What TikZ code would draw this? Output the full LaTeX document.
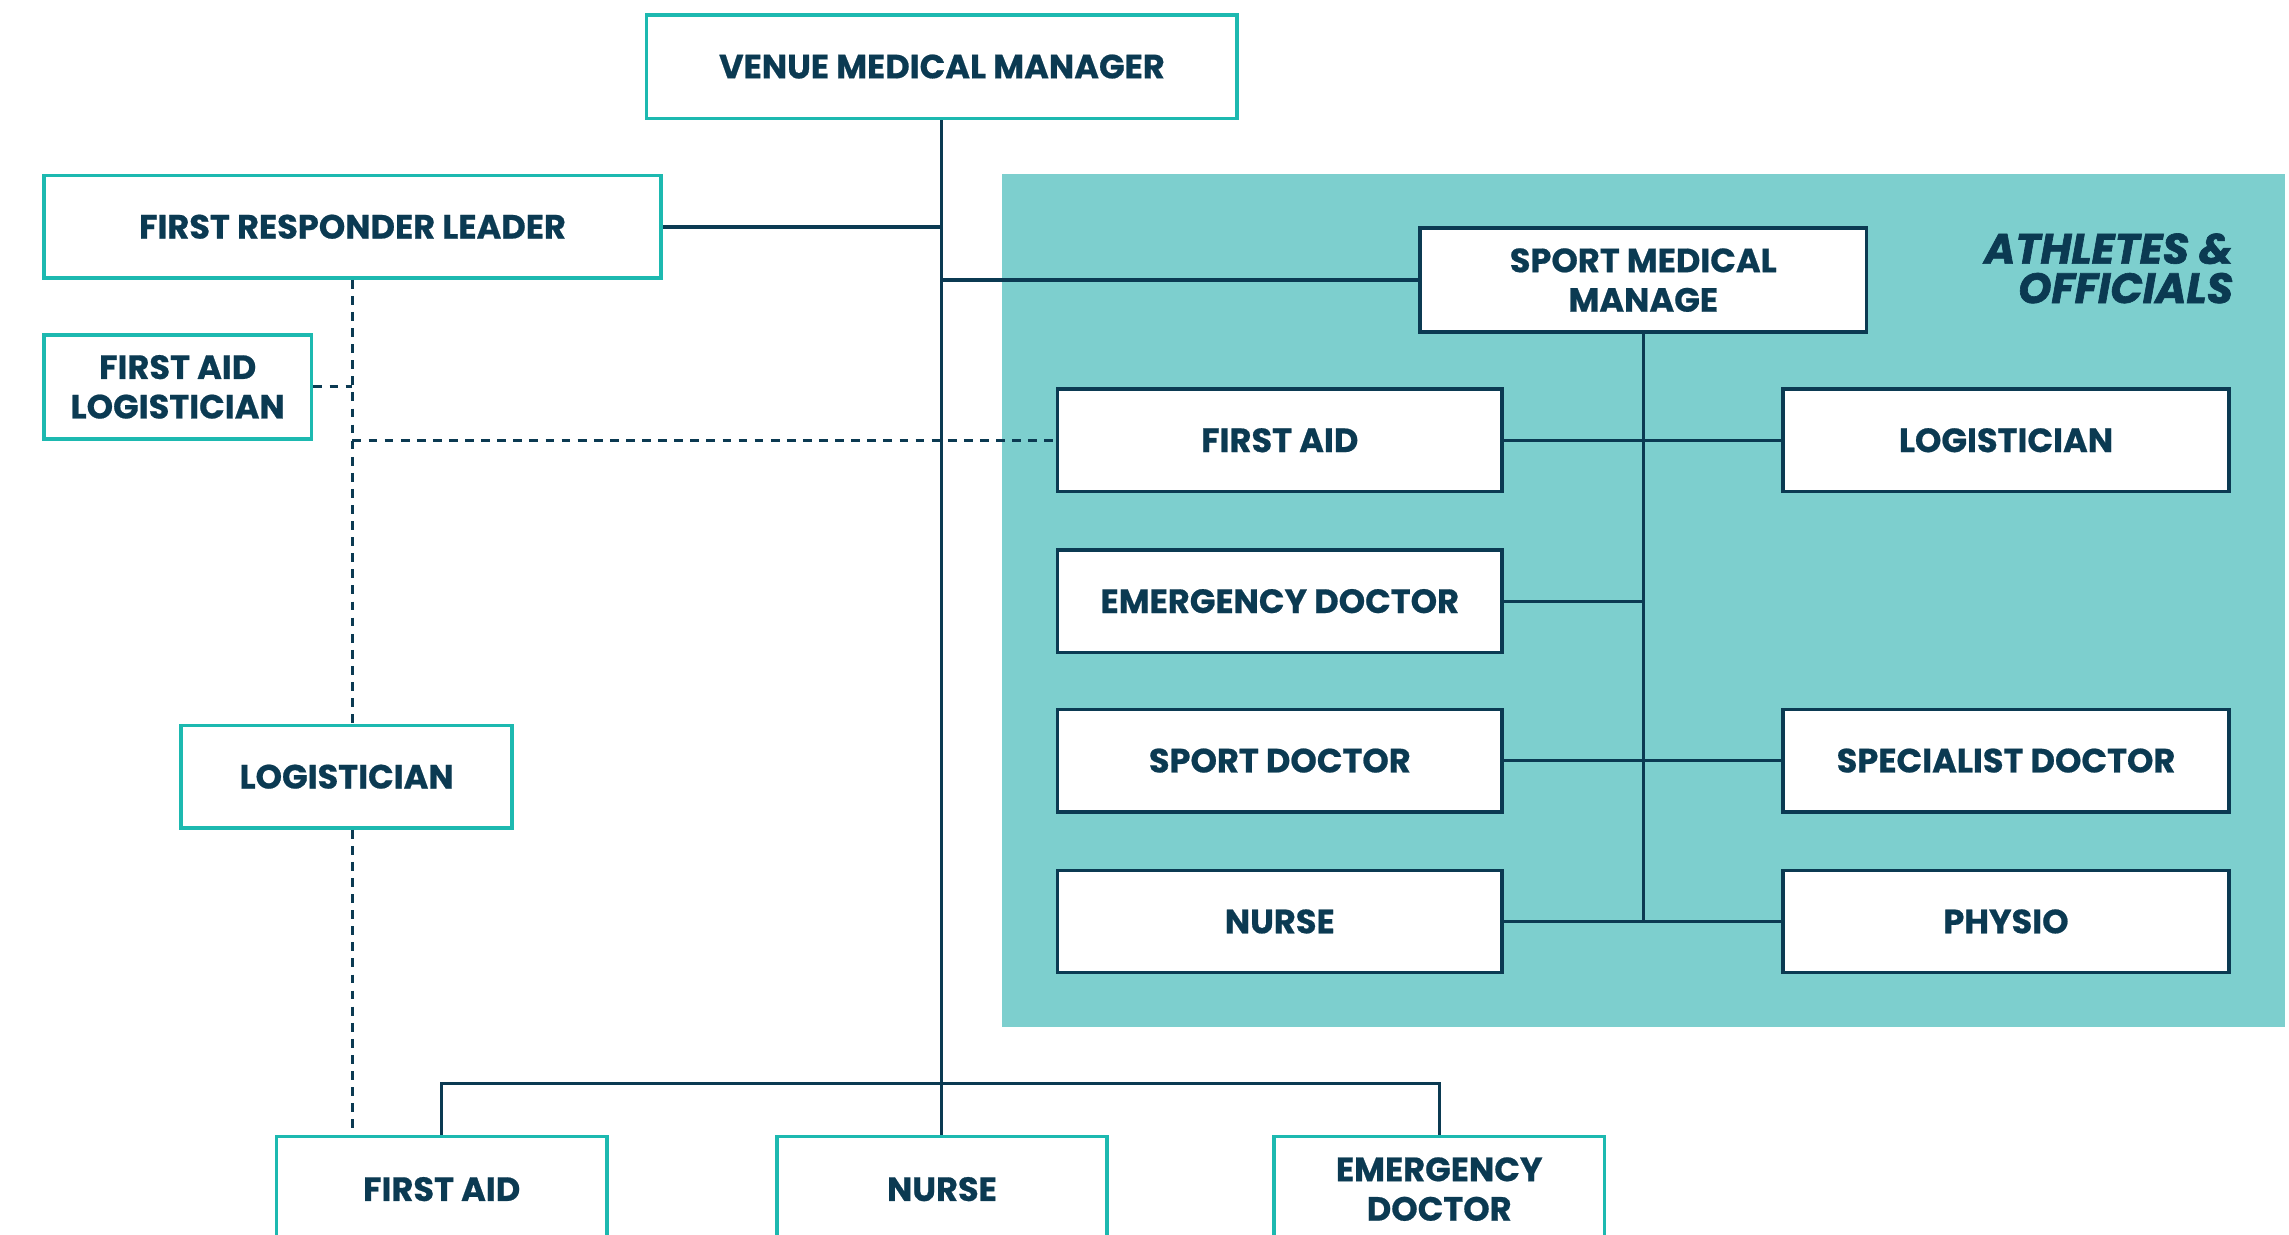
\documentclass[tikz,border=0pt]{standalone}
\usepackage{fontspec}
\setmainfont{Poppins}[BoldFeatures={FakeBold=0.6}]
\newfontfamily\titlefont{Poppins}[BoldItalicFeatures={FakeBold=1.5}]
\definecolor{navy}{HTML}{0B3A52}
\definecolor{tealb}{HTML}{1DB9B0}
\definecolor{panel}{HTML}{7DCFCE}
\begin{document}
\begin{tikzpicture}[x=1pt,y=-1pt,
  lbl/.style={font=\fontsize{23}{27}\selectfont\bfseries, text=navy, align=center, inner sep=0pt},
  outbox/.style={lbl, draw=tealb, line width=2.6pt, fill=white, minimum height=70pt},
  inbox/.style={lbl, draw=navy, line width=2.4pt, fill=white, minimum width=304pt, minimum height=70pt},
  conn/.style={draw=navy, line width=2pt},
  dconn/.style={draw=navy, line width=2pt, dash pattern=on 6pt off 5pt}]
\useasboundingbox (0,0) rectangle (1565,843.7);
\clip (0,0) rectangle (1565,843.7);
\fill[panel] (685,119) rectangle (1562,702);
\node[lbl, font=\titlefont\fontsize{29}{27}\selectfont\bfseries\itshape, anchor=east, align=right] (title) at (1527,183.5) {ATHLETES \&\\OFFICIALS};
% outer boxes
\node[outbox, minimum width=404pt, minimum height=71pt] (vmm) at (644,45.5) {VENUE MEDICAL MANAGER};
\node[outbox, minimum width=422pt] (frl) at (241,155) {FIRST RESPONDER LEADER};
\node[outbox, minimum width=183pt, minimum height=71pt] (fal) at (121.5,264.5) {FIRST AID\\LOGISTICIAN};
\node[outbox, minimum width=226pt] (logl) at (237,531) {LOGISTICIAN};
\node[outbox, minimum width=226pt, minimum height=72pt] (bfa) at (302,813) {FIRST AID};
\node[outbox, minimum width=226pt, minimum height=72pt] (bn) at (644,813) {NURSE};
\node[outbox, minimum width=226pt, minimum height=72pt] (bed) at (984,813) {EMERGENCY\\DOCTOR};
% inner boxes
\node[inbox, minimum width=305pt, minimum height=71pt] (smm) at (1123.5,191.5) {SPORT MEDICAL\\MANAGE};
\node[inbox] (rfa) at (875,301) {FIRST AID};
\node[inbox] (red) at (875,411) {EMERGENCY DOCTOR};
\node[inbox] (rsd) at (875,520) {SPORT DOCTOR};
\node[inbox] (rn) at (875,630) {NURSE};
\node[inbox, minimum width=305pt] (rlog) at (1371.5,301) {LOGISTICIAN};
\node[inbox, minimum width=305pt] (rspd) at (1371.5,520) {SPECIALIST DOCTOR};
\node[inbox, minimum width=305pt] (rph) at (1371.5,630) {PHYSIO};
% coordinates
\coordinate (frlj) at (vmm.south |- frl.east);
\coordinate (smmj) at (vmm.south |- smm.west);
\coordinate (bus) at (644,741);
% solid connectors
\draw[conn] (vmm.south) -- (bn.north);
\draw[conn, line width=2.6pt] (frl.east) -- (frlj);
\draw[conn, line width=2.6pt] (smmj) -- (smm.west);
\draw[conn] (bfa.north) -- (bfa.north |- bus) -- (bed.north |- bus) -- (bed.north);
\draw[conn] (smm.south) -- (smm.south |- rn.east);
\draw[conn] (rfa.east) -- (rlog.west);
\draw[conn] (red.east) -- (smm.south |- red.east);
\draw[conn] (rsd.east) -- (rspd.west);
\draw[conn] (rn.east) -- (rph.west);
% dashed connectors
\draw[dconn] (frl.south) -- (frl.south |- logl.north);
\draw[dconn] (frl.south |- logl.south) -- (frl.south |- bfa.north);
\draw[dconn] (fal.east) -- (fal.east -| frl.south);
\draw[dconn] (frl.south |- rfa.west) -- (rfa.west);
\end{tikzpicture}
\end{document}
